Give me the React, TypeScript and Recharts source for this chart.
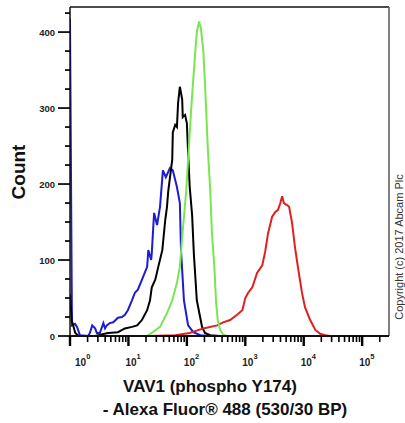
import { LineChart, Line, XAxis, YAxis, Label, ReferenceLine } from "recharts";

// fluorescence intensity (x) and event count (y)
const blueX = [1, 1.08, 1.22, 1.32, 1.48, 2.04, 2.19, 2.4, 2.69, 2.88, 3.24, 3.72, 3.98, 4.27, 4.79, 5.5, 6.61, 7.76, 8.71, 9.77, 11.5, 12.9, 14.5, 17, 20.9, 21.9, 24.5, 25.1, 27.5, 30.9, 34.7, 38.9, 43.7, 51.3, 57.5, 67.6, 75.9, 79.4, 89.1, 105, 129, 170, 251];
const blueCount = [418, 14, 16, 12, 1, 0, 4, 14, 10, 4, 4, 17, 10, 14, 17, 18, 24, 25, 28, 34, 47, 57, 61, 74, 91, 113, 100, 109, 162, 146, 170, 218, 209, 221, 218, 196, 175, 113, 47, 14, 5, 1, 0];

const blackX = [1, 1.07, 1.23, 1.41, 2.69, 4.47, 6.61, 8.71, 11.5, 14.1, 17, 20.9, 23.4, 25.1, 28.8, 32.4, 38, 42.7, 45.7, 47.9, 56.2, 57.5, 63.1, 67.6, 70.8, 75.9, 83.2, 85.1, 93.3, 100, 105, 112, 123, 132, 148, 182, 204, 251, 372];
const blackCount = [55, 21, 4, 0, 0, 4, 5, 10, 12, 14, 21, 34, 47, 64, 74, 91, 113, 153, 170, 190, 232, 268, 278, 275, 307, 328, 311, 288, 291, 280, 241, 196, 159, 107, 47, 12, 4, 1, 0];

const redX = [23.4, 63.1, 112, 191, 331, 417, 550, 724, 891, 1000, 1120, 1320, 1590, 1950, 2190, 2450, 2880, 3240, 3630, 3980, 4270, 4570, 5250, 5620, 6310, 7080, 7940, 9330, 10500, 12900, 15800, 19100, 23400, 28200];
const redCount = [0, 1, 4, 10, 14, 18, 21, 28, 34, 50, 57, 64, 83, 93, 111, 135, 157, 163, 166, 175, 184, 175, 172, 170, 149, 117, 91, 57, 38, 21, 8, 3, 1, 0];

const greenX = [1, 20.9, 25.1, 34.7, 45.7, 56.2, 67.6, 75.9, 85.1, 97.7, 110, 123, 138, 148, 162, 174, 191, 204, 229, 251, 269, 295, 316, 339, 372, 417, 468, 288000];
const greenCount = [0, 0, 4, 12, 30, 47, 70, 91, 139, 192, 258, 317, 370, 400, 414, 405, 376, 333, 245, 192, 135, 92, 45, 20, 8, 2, 0, 0];

const xTicks = [
  1, 2, 3, 4, 5, 6, 7, 8, 9,
  10, 20, 30, 40, 50, 60, 70, 80, 90,
  100, 200, 300, 400, 500, 600, 700, 800, 900,
  1000, 2000, 3000, 4000, 5000, 6000, 7000, 8000, 9000,
  10000, 20000, 30000, 40000, 50000, 60000, 70000, 80000, 90000,
  100000, 200000,
];
const yTicks = [0, 25, 50, 75, 100, 125, 150, 175, 200, 225, 250, 275, 300, 325, 350, 375, 400, 425];

const X_MAX = 288000;
const Y_MAX = 433;

const toRows = (xs: number[], ys: number[]) => xs.map((x, i) => ({ x, count: ys[i] }));

const blueData = toRows(blueX, blueCount);
const blackData = toRows(blackX, blackCount);
const redData = toRows(redX, redCount);
const greenData = toRows(greenX, greenCount);

const FONT = "'Liberation Sans', Arial, sans-serif";

function XTick(props: any) {
  const { x, y, payload } = props;
  const lg = Math.log10(payload.value);
  const exp = Math.round(lg);
  const major = Math.abs(lg - exp) < 1e-6;
  return (
    <g>
      <line x1={x} x2={x} y1={y} y2={y + (major ? 10 : 6)} stroke="#000" strokeWidth={major ? 2.4 : 1.6} />
      {major && (
        <text x={x - 3 + (exp === 0 ? 8 : 0)} y={y + 30} fontSize={10} fontFamily={FONT} fontWeight="bold" fill="#222">
          10
          <tspan dy={-7} fontSize={7.5}>{exp}</tspan>
        </text>
      )}
    </g>
  );
}

function YTick(props: any) {
  const { x, y, payload } = props;
  const major = payload.value % 100 === 0;
  return (
    <g>
      <line x1={x - (major ? 12 : 5)} x2={x} y1={y} y2={y} stroke="#000" strokeWidth={1.7} />
      {major && (
        <text x={x - 15} y={y + 3.5} textAnchor="end" fontSize={9.5} fontFamily={FONT} fontWeight="bold" fill="#222">
          {payload.value}
        </text>
      )}
    </g>
  );
}

const xTitle = () => (
  <g fontFamily={FONT} fontWeight="bold" fontSize={17} fill="#111">
    <text x={210} y={392} textAnchor="middle">VAV1 (phospho Y174)</text>
    <text x={225} y={415} textAnchor="middle">- Alexa Fluor® 488 (530/30 BP)</text>
  </g>
);

const yTitle = () => (
  <text x={18} y={172} transform="rotate(-90 18 172)" textAnchor="middle" fontFamily={FONT} fontWeight="bold" fontSize={19} fill="#111" dominantBaseline="central">
    Count
  </text>
);

const copyright = () => (
  <text x={399} y={247} transform="rotate(-90 399 247)" textAnchor="middle" fontFamily={FONT} fontSize={11} fill="#333" dominantBaseline="central">
    Copyright (c) 2017 Abcam Plc
  </text>
);

export default function App() {
  return (
    <div style={{ position: "absolute", left: 0, top: 0, background: "#fff" }}>
      <LineChart width={405} height={423} margin={{ top: 7, right: 16, left: 0, bottom: 0 }}>
        <XAxis
          dataKey="x"
          type="number"
          scale="log"
          domain={[1, X_MAX]}
          allowDataOverflow
          ticks={xTicks}
          interval={0}
          tick={<XTick />}
          tickLine={false}
          tickSize={0}
          tickMargin={0}
          height={87}
          axisLine={{ stroke: "#111", strokeWidth: 2 }}
        >
          <Label content={xTitle} />
        </XAxis>
        <YAxis
          type="number"
          domain={[0, Y_MAX]}
          allowDataOverflow
          ticks={yTicks}
          interval={0}
          tick={<YTick />}
          tickLine={false}
          tickSize={0}
          tickMargin={0}
          width={70}
          axisLine={{ stroke: "#111", strokeWidth: 1.5 }}
        >
          <Label content={yTitle} />
        </YAxis>
        <ReferenceLine y={Y_MAX} stroke="#111" strokeWidth={1.5} ifOverflow="extendDomain" />
        <ReferenceLine x={X_MAX} stroke="#555" strokeWidth={1.5} ifOverflow="extendDomain" label={copyright} />
        <Line data={blueData} dataKey="count" type="linear" stroke="#1c1cd0" strokeWidth={2} dot={false} isAnimationActive={false} />
        <Line data={blackData} dataKey="count" type="linear" stroke="#000000" strokeWidth={2} dot={false} isAnimationActive={false} />
        <Line data={redData} dataKey="count" type="linear" stroke="#e02020" strokeWidth={2} dot={false} isAnimationActive={false} />
        <Line data={greenData} dataKey="count" type="linear" stroke="#78e650" strokeWidth={2} dot={false} isAnimationActive={false} />
      </LineChart>
    </div>
  );
}
